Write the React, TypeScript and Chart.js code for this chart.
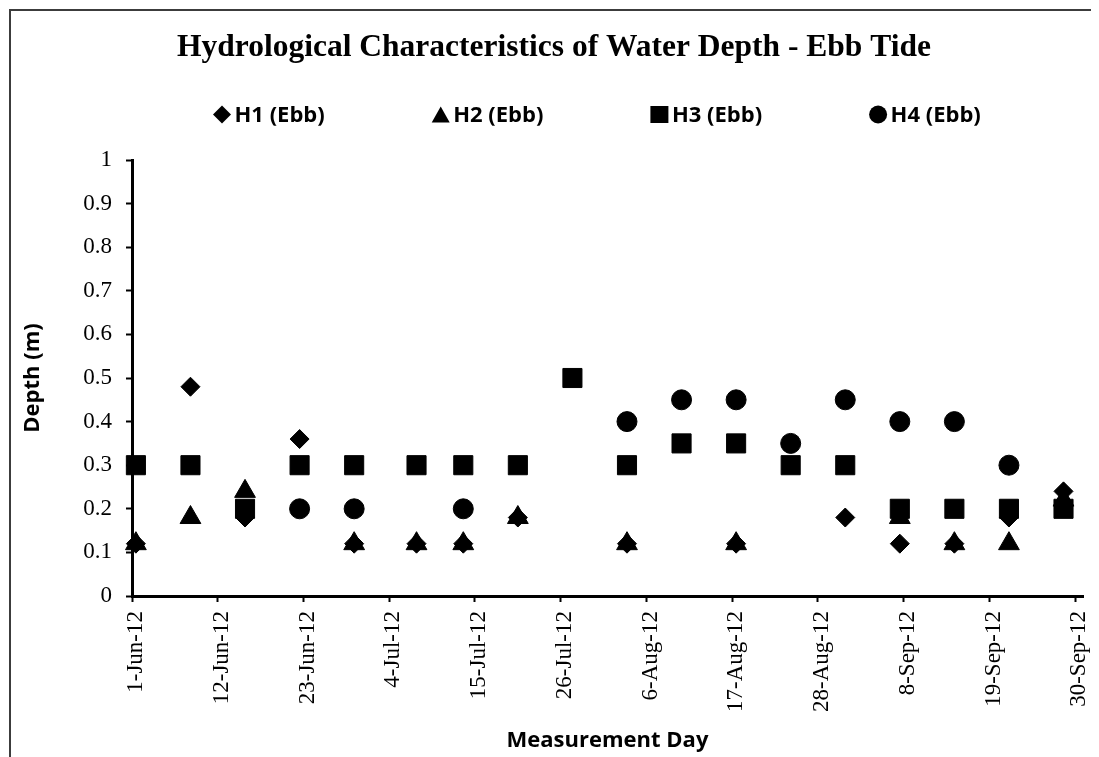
import React, { useEffect, useRef } from "react";
import { Chart, registerables } from "chart.js";

Chart.register(...registerables);

// ---------- data ----------
const measurementDates = [
  "2012-06-01", "2012-06-08", "2012-06-15", "2012-06-22", "2012-06-29",
  "2012-07-07", "2012-07-13", "2012-07-20", "2012-07-27", "2012-08-03",
  "2012-08-10", "2012-08-17", "2012-08-24", "2012-08-31", "2012-09-07",
  "2012-09-14", "2012-09-21", "2012-09-28",
];

const h1Ebb = [0.12, 0.48, 0.18, 0.36, 0.12, 0.12, 0.12, 0.18, null, 0.12, null, 0.12, null, 0.18, 0.12, 0.12, 0.18, 0.24];
const h2Ebb = [0.12, 0.18, 0.24, null, 0.12, 0.12, 0.12, 0.18, null, 0.12, null, 0.12, null, null, 0.18, 0.12, 0.12, 0.22];
const h3Ebb = [0.3, 0.3, 0.2, 0.3, 0.3, 0.3, 0.3, 0.3, 0.5, 0.3, 0.35, 0.35, 0.3, 0.3, 0.2, 0.2, 0.2, 0.2];
const h4Ebb = [null, null, null, 0.2, 0.2, null, 0.2, null, null, 0.4, 0.45, 0.45, 0.35, 0.45, 0.4, 0.4, 0.3, null];

const seriesLabels = ["H1 (Ebb)", "H2 (Ebb)", "H3 (Ebb)", "H4 (Ebb)"];

const xTickLabels = [
  "1-Jun-12", "12-Jun-12", "23-Jun-12", "4-Jul-12", "15-Jul-12", "26-Jul-12",
  "6-Aug-12", "17-Aug-12", "28-Aug-12", "8-Sep-12", "19-Sep-12", "30-Sep-12",
];
const yTickValues = [0, 0.1, 0.2, 0.3, 0.4, 0.5, 0.6, 0.7, 0.8, 0.9, 1];

const chartTitle = "Hydrological Characteristics of Water Depth - Ebb Tide";
const xAxisTitle = "Measurement Day";
const yAxisTitle = "Depth (m)";

// ---------- helpers ----------
const MONTHS: Record<string, number> = {
  Jan: 0, Feb: 1, Mar: 2, Apr: 3, May: 4, Jun: 5, Jul: 6, Aug: 7, Sep: 8, Oct: 9, Nov: 10, Dec: 11,
};
const DAY_MS = 86400000;
const AXIS_START = Date.UTC(2012, 5, 1);

function dayFromIso(s: string): number {
  const [y, m, d] = s.split("-").map(Number);
  return (Date.UTC(y, m - 1, d) - AXIS_START) / DAY_MS;
}
function dayFromLabel(s: string): number {
  const [d, mon, yy] = s.split("-");
  return (Date.UTC(2000 + Number(yy), MONTHS[mon], Number(d)) - AXIS_START) / DAY_MS;
}

const tickDays = xTickLabels.map(dayFromLabel);
const axisMaxDay = tickDays[tickDays.length - 1] + 1;

// Excel date axis: each day occupies a slot, the point sits mid-day
function toPoints(values: (number | null)[]) {
  return measurementDates
    .map((d, i) => ({ x: dayFromIso(d) + 0.5, y: values[i] }))
    .filter((p) => p.y !== null);
}

const SANS = "'Open Sans', 'Liberation Sans', sans-serif";
const SERIF = "'Liberation Serif', 'Times New Roman', serif";

function drawMarker(ctx: CanvasRenderingContext2D, style: string, x: number, y: number, hw: number, hh: number) {
  ctx.beginPath();
  if (style === "rectRot") {
    ctx.moveTo(x, y - hh);
    ctx.lineTo(x + hw, y);
    ctx.lineTo(x, y + hh);
    ctx.lineTo(x - hw, y);
    ctx.closePath();
  } else if (style === "triangle") {
    ctx.moveTo(x, y - hh);
    ctx.lineTo(x + hw, y + hh);
    ctx.lineTo(x - hw, y + hh);
    ctx.closePath();
  } else if (style === "rect") {
    ctx.rect(x - hw, y - hh, hw * 2, hh * 2);
  } else {
    ctx.arc(x, y, hw, 0, Math.PI * 2);
  }
  ctx.fill();
}

const legendPlugin = {
  id: "ebbLegend",
  afterDraw(chart: any) {
    const ctx: CanvasRenderingContext2D = chart.ctx;
    const startX = 214;
    const step = 218.7;
    const y = 106.5;
    ctx.save();
    ctx.fillStyle = "#000";
    chart.data.datasets.forEach((ds: any, i: number) => {
      const cx = startX + i * step;
      const hh = ds.pointStyle === "triangle" ? 8 : ds.pointStyle === "rect" ? 8.5 : 9;
      drawMarker(ctx, ds.pointStyle, cx, y, 9, hh);
      ctx.font = `bold 22px ${SANS}`;
      ctx.textAlign = "left";
      ctx.textBaseline = "middle";
      ctx.fillText(ds.label, cx + 12.5, y + 1.5);
    });
    ctx.restore();
  },
};

const framePlugin = {
  id: "frame",
  afterDraw(chart: any) {
    const ctx: CanvasRenderingContext2D = chart.ctx;
    ctx.save();
    ctx.strokeStyle = "#3c3c3c";
    ctx.lineWidth = 2;
    ctx.beginPath();
    ctx.moveTo(2, chart.height);
    ctx.lineTo(2, 2);
    ctx.lineTo(chart.width, 2);
    ctx.stroke();
    ctx.restore();
  },
};

export default function App() {
  const canvasRef = useRef<HTMLCanvasElement | null>(null);

  useEffect(() => {
    document.documentElement.style.overflow = "hidden";
    document.body.style.overflow = "hidden";
    const canvas = canvasRef.current;
    if (!canvas) return;

    const styles = [
      { pointStyle: "rectRot", radius: 9.5 },
      { pointStyle: "triangle", radius: 12 },
      { pointStyle: "rect", radius: 13.5 },
      { pointStyle: "circle", radius: 10 },
    ];
    const values = [h1Ebb, h2Ebb, h3Ebb, h4Ebb];

    const chart = new Chart(canvas, {
      type: "scatter",
      data: {
        datasets: values.map((v, i) => ({
          label: seriesLabels[i],
          data: toPoints(v),
          pointStyle: styles[i].pointStyle,
          pointRadius: styles[i].radius,
          pointHoverRadius: styles[i].radius,
          backgroundColor: "#000",
          borderColor: "#000",
          borderWidth: 1,
          showLine: false,
          clip: false,
          order: values.length - i,
        })),
      },
      options: {
        animation: false,
        responsive: true,
        maintainAspectRatio: false,
        events: [],
        layout: { padding: { left: 17, right: 16, top: 0, bottom: 0 } },
        plugins: {
          legend: { display: false },
          tooltip: { enabled: false },
          title: {
            display: true,
            text: chartTitle,
            color: "#000",
            font: { family: SERIF, size: 31.5, weight: "bold", lineHeight: 1.2 },
            padding: { top: 20.8, bottom: 93.4 },
          },
        },
        scales: {
          x: {
            type: "linear",
            min: 0,
            max: axisMaxDay,
            afterBuildTicks: (scale: any) => {
              scale.ticks = tickDays.map((v) => ({ value: v }));
            },
            afterFit: (scale: any) => {
              scale.height = 161;
              scale.paddingRight = 0;
              scale.paddingLeft = 0;
            },
            ticks: {
              autoSkip: false,
              maxRotation: 90,
              minRotation: 90,
              padding: 9,
              labelOffset: 4,
              color: "#000",
              font: { family: SERIF, size: 23 },
              callback: (value: any) => {
                const idx = tickDays.indexOf(Number(value));
                return idx >= 0 ? xTickLabels[idx] : "";
              },
            },
            grid: {
              display: true,
              drawOnChartArea: false,
              drawTicks: true,
              tickLength: 6,
              tickWidth: 2,
              tickColor: "#000",
            },
            border: { display: true, color: "#000", width: 3 },
            title: {
              display: true,
              text: xAxisTitle,
              color: "#000",
              font: { family: SANS, size: 22, weight: "bold", lineHeight: 1.2 },
              padding: { top: 0, bottom: 3 },
            },
          },
          y: {
            type: "linear",
            min: 0,
            max: 1,
            afterBuildTicks: (scale: any) => {
              scale.ticks = yTickValues.map((v) => ({ value: v }));
            },
            afterFit: (scale: any) => {
              scale.width = 107;
            },
            ticks: {
              padding: 14,
              color: "#000",
              font: { family: SERIF, size: 23 },
              callback: (value: any) => String(Math.round(Number(value) * 10) / 10),
            },
            grid: {
              display: true,
              drawOnChartArea: false,
              drawTicks: true,
              tickLength: 6,
              tickWidth: 2,
              tickColor: "#000",
            },
            border: { display: true, color: "#000", width: 3 },
            title: {
              display: true,
              text: yAxisTitle,
              color: "#000",
              font: { family: SANS, size: 22, weight: "bold", lineHeight: 0.727 },
              padding: { top: 0, bottom: 0 },
            },
          },
        },
      } as any,
      plugins: [legendPlugin, framePlugin],
    });

    return () => chart.destroy();
  }, []);

  return (
    <div style={{ position: "relative", width: "1091px", height: "749px" }}>
      <canvas ref={canvasRef} style={{ display: "block" }} />
    </div>
  );
}
